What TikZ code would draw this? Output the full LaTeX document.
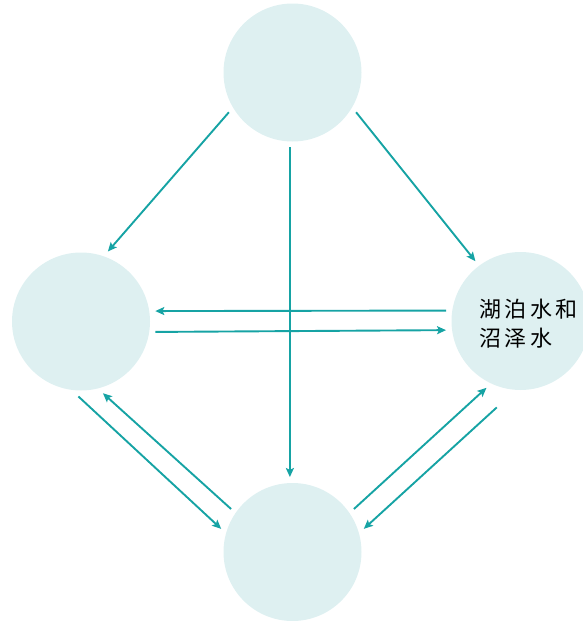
\documentclass[tikz,border=0pt]{standalone}
\usepackage{fontspec}
\newfontfamily\cjkfont[LetterSpace=15]{Noto Sans CJK SC}
\usetikzlibrary{arrows.meta}
\definecolor{flowteal}{RGB}{22,163,164}
\definecolor{poolfill}{RGB}{222,240,241}

\begin{document}
\begin{tikzpicture}[
    x=1pt, y=-1pt,
    pool/.style={circle, fill=poolfill, minimum size=138pt, inner sep=0pt, outer sep=6pt},
    arr/.style={-{Stealth[length=9pt, width=8pt, inset=1.8pt]}, line width=1.9pt, draw=flowteal}
]
\useasboundingbox (0,0) rectangle (583,621);
\node[pool] (up) at (292.5,72.5) {};
\node[pool] (west) at (81,321.5) {};
\node[pool] (east) at (520.5,321) {};
\node[pool] (down) at (292.5,552) {};
\node[font=\cjkfont\fontsize{22}{29}\selectfont, align=left, xshift=8pt, yshift=-3pt] (eastlbl) at (east) {湖泊水和\\沼泽水};

\draw[arr] (up.212) -- (west.69);
\draw[arr] (up.328) -- (east.127);
\draw[arr] (up.268) -- (down.92);
\draw[arr] (east.172.34) -- (west.8.05);
\draw[arr] (west.352.72) -- (east.187.66);
\draw[arr] (west.268) -- (down.162);
\draw[arr] (down.145) -- (west.287);
\draw[arr] (down.35) -- (east.243);
\draw[arr, shorten <=18pt] (east.262) -- (down.18);
\end{tikzpicture}
\end{document}
